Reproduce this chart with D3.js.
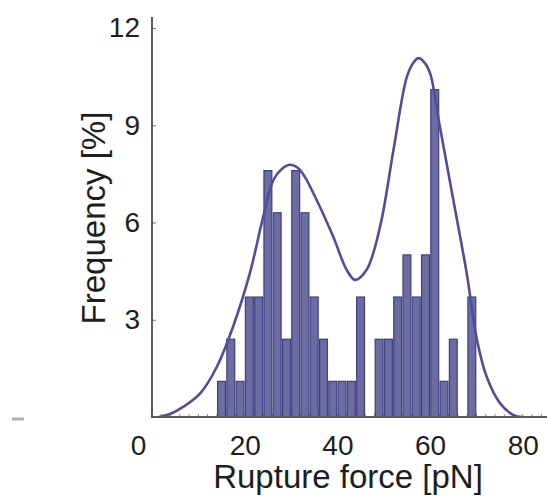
<!DOCTYPE html>
<html>
<head>
<meta charset="utf-8">
<script src="https://cdn.jsdelivr.net/npm/d3@7"></script>
<style>
    body {margin:0; background:white;}
    svg {display:block;}
    text {font-family:"Liberation Sans", Arial, sans-serif; fill:#1e1e1e;}
</style>
</head>
<body>
<div id="hist"></div>
<script>
//histogram bins (left edge of each 2 pN bin) and frequencies in %
var binStarts = [14,16,18,20,22,24,26,28,30,32,34,36,38,40,42,44,46,48,50,52,54,56,58,60,62,64,66,68];
var binFreqs  = [1.1,2.4,1.1,3.7,3.7,7.6,6.3,2.4,7.6,6.3,3.7,2.4,1.1,1.1,1.1,3.7,0,2.4,2.4,3.7,5.0,3.7,5.0,10.1,1.1,2.4,0,3.7];
var binWidth = 2;

//fitted two peak curve
var fitX = [1.5,4,6.8,10.4,14.0,17.5,21.1,24.0,26.2,28,29.8,31.5,33,35.5,39.1,42.0,43.8,46.3,49.2,52.1,55.0,56.5,57.5,58.7,60.0,62.1,65.0,67.9,70.1,72.2,75.1,78.0,80];
var fitY = [0,0.1,0.32,0.73,1.55,2.79,4.43,6.18,7.31,7.65,7.78,7.68,7.4,6.7,5.56,4.54,4.23,4.54,5.87,8.24,10.5,10.95,11.07,10.95,10.6,8.96,6.7,4.43,2.38,1.24,0.42,0.06,0];

//tick labels
var xTicks = [0,20,40,60,80];
var yTicks = [3,6,9,12];

var drawChart = function()
{
    var screen = {width:547, height:497};

    var svg = d3.select("#hist")
        .append("svg")
        .attr("width",screen.width)
        .attr("height",screen.height);

    var xScale = d3.scaleLinear()
                .domain([0,85])
                .range([152,546]);

    var yScale = d3.scaleLinear()
                .domain([0,12])
                .range([417,28]);

    //little minor ticks along the bottom
    svg.append("g")
        .selectAll("line")
        .data(d3.range(0,86,2))
        .enter()
        .append("line")
        .attr("x1",function(d){return xScale(d);})
        .attr("x2",function(d){return xScale(d);})
        .attr("y1",yScale(0))
        .attr("y2",yScale(0)-3)
        .attr("stroke","#8a8a8a")
        .attr("stroke-width",1);

    //the bars
    svg.append("g")
        .selectAll("rect")
        .data(binStarts.filter(function(d,i){return binFreqs[i] > 0;}))
        .enter()
        .append("rect")
        .attr("x",function(d){return xScale(d)+0.7;})
        .attr("width",function(d){return xScale(d+binWidth)-xScale(d)-1.4;})
        .attr("y",function(d){return yScale(binFreqs[binStarts.indexOf(d)]);})
        .attr("height",function(d){return yScale(0)-yScale(binFreqs[binStarts.indexOf(d)]);})
        .attr("fill","#6c6ca2")
        .attr("stroke","#3e3e84")
        .attr("stroke-width",1.2);

    //fit curve on top
    var line = d3.line()
        .x(function(d,i){return xScale(fitX[i]);})
        .y(function(d){return yScale(d);})
        .curve(d3.curveCatmullRom.alpha(0.5));

    svg.append("path")
        .datum(fitY)
        .attr("d",line)
        .attr("fill","none")
        .attr("stroke","#4e4e9c")
        .attr("stroke-width",2.6);

    //axes
    var xAxis = d3.axisBottom(xScale)
        .tickValues(xTicks)
        .tickSize(0)
        .tickPadding(18);

    var yAxis = d3.axisLeft(yScale)
        .tickValues(yTicks)
        .tickSize(-4)
        .tickPadding(12);

    var gx = svg.append("g")
        .attr("transform","translate(0,"+yScale(0)+")")
        .call(xAxis);
    gx.select(".domain").remove();
    gx.selectAll("text")
        .attr("font-size",28)
        .attr("fill","#1e1e1e")
        .attr("dx",function(d){return d == 0 ? -14 : 0;});

    var gy = svg.append("g")
        .attr("transform","translate("+xScale(0)+",0)")
        .call(yAxis);
    gy.select(".domain").remove();
    gy.selectAll("line").attr("stroke","#777");
    gy.selectAll("text")
        .attr("font-size",28)
        .attr("fill","#1e1e1e");

    //axis lines drawn by hand so they run past the ticks
    svg.append("line")
        .attr("x1",xScale(0))
        .attr("x2",screen.width)
        .attr("y1",yScale(0))
        .attr("y2",yScale(0))
        .attr("stroke","#5a5a5a")
        .attr("stroke-width",2);

    svg.append("line")
        .attr("x1",xScale(0))
        .attr("x2",xScale(0))
        .attr("y1",yScale(0)+1)
        .attr("y2",17)
        .attr("stroke","#4a4a4a")
        .attr("stroke-width",1.8);

    //stray dash at the left
    svg.append("line")
        .attr("x1",12)
        .attr("x2",24)
        .attr("y1",419)
        .attr("y2",419)
        .attr("stroke","#b0b0b0")
        .attr("stroke-width",3);

    //titles
    svg.append("text")
        .attr("x",348)
        .attr("y",488)
        .attr("text-anchor","middle")
        .attr("font-size",33)
        .text("Rupture force [pN]");

    svg.append("text")
        .attr("transform","translate(105,218) rotate(-90)")
        .attr("text-anchor","middle")
        .attr("font-size",33)
        .text("Frequency [%]");
}

drawChart();
</script>
</body>
</html>
